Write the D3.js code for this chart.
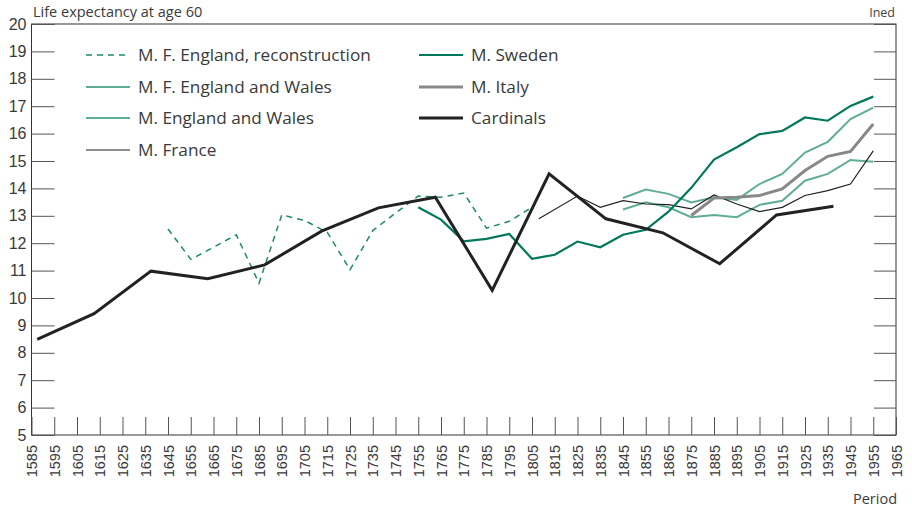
<!DOCTYPE html>
<html>
<head>
<meta charset="utf-8">
<script src="https://cdn.jsdelivr.net/npm/d3@7"></script>
<style>
  body { margin: 0; background: #fff; }
  svg { display: block; font-family: "Open Sans", "Noto Sans", sans-serif; }
</style>
</head>
<body>
<div id="chart"></div>
<script>
// data (year, life expectancy at 60)
const englandRecon = [[1645,12.52],[1655,11.41],[1665,11.85],[1675,12.31],[1685,10.54],[1695,13.03],[1705,12.83],
  [1715,12.40],[1725,11.03],[1735,12.46],[1745,13.10],[1755,13.72],[1765,13.68],[1775,13.83],[1785,12.55],
  [1795,12.80],[1805,13.31]];
const mfEnglandWales = [[1845,13.65],[1855,13.96],[1865,13.80],[1875,13.49],[1885,13.68],[1895,13.58],[1905,14.16],
  [1915,14.53],[1925,15.31],[1935,15.70],[1945,16.53],[1955,16.95]];
const mEnglandWales = [[1845,13.23],[1855,13.49],[1865,13.31],[1875,12.95],[1885,13.03],[1895,12.95],[1905,13.40],
  [1915,13.55],[1925,14.28],[1935,14.53],[1945,15.04],[1955,14.97]];
const mFrance = [[1808,12.89],[1825,13.72],[1835,13.31],[1845,13.55],[1855,13.43],[1865,13.41],[1875,13.25],
  [1885,13.76],[1895,13.43],[1905,13.15],[1915,13.31],[1925,13.74],[1935,13.92],[1945,14.16],[1955,15.37]];
const mSweden = [[1755,13.31],[1765,12.86],[1775,12.07],[1785,12.16],[1795,12.34],[1805,11.43],[1815,11.58],
  [1825,12.06],[1835,11.85],[1845,12.31],[1855,12.49],[1865,13.15],[1875,14.02],[1885,15.05],[1895,15.50],
  [1905,15.98],[1915,16.10],[1925,16.59],[1935,16.47],[1945,17.01],[1955,17.35]];
const mItaly = [[1875,13.01],[1885,13.65],[1895,13.68],[1905,13.74],[1915,13.98],[1925,14.65],[1935,15.17],
  [1945,15.35],[1955,16.35]];
const cardinals = [[1587.5,8.49],[1612.5,9.43],[1637.5,10.98],[1662.5,10.70],[1687.5,11.21],[1712.5,12.44],
  [1737.5,13.29],[1762.5,13.68],[1787.5,10.28],[1812.5,14.53],[1837.5,12.89],[1862.5,12.38],[1887.5,11.25],
  [1912.5,13.03],[1937.5,13.35]];

const xTicks = d3.range(1585, 1966, 10);
const yTicks = d3.range(5, 21, 1);

const series = [
  { name: "M. F. England, reconstruction", data: englandRecon, color: "#1f8a68", width: 1.5, dash: "6,5", col: 0, row: 0 },
  { name: "M. F. England and Wales", data: mfEnglandWales, color: "#5fae93", width: 2, col: 0, row: 1 },
  { name: "M. England and Wales", data: mEnglandWales, color: "#5fae93", width: 2, col: 0, row: 2 },
  { name: "M. France", data: mFrance, color: "#222", width: 1.2, col: 0, row: 3 },
  { name: "M. Sweden", data: mSweden, color: "#00795a", width: 2.2, col: 1, row: 0 },
  { name: "M. Italy", data: mItaly, color: "#888", width: 3, col: 1, row: 1 },
  { name: "Cardinals", data: cardinals, color: "#222", width: 3, col: 1, row: 2 }
];

const W = 912, H = 509;
const plotL = 31.5, plotR = 896, plotT = 24, plotB = 435;

const svg = d3.select("#chart").append("svg")
  .attr("width", W).attr("height", H);

const x = d3.scaleLinear().domain([1585, 1965]).range([plotL, plotR]);
const y = d3.scaleLinear().domain([5, 20]).range([plotB, plotT]);

// frame
svg.append("rect")
  .attr("x", plotL).attr("y", plotT)
  .attr("width", plotR - plotL).attr("height", plotB - plotT)
  .attr("fill", "none").attr("stroke", "#333").attr("stroke-width", 1);

// y axis left, ticks inward
const yAxis = svg.append("g")
  .attr("transform", `translate(${plotL},0)`)
  .call(d3.axisLeft(y).tickValues(yTicks).tickSize(-23));
yAxis.select(".domain").remove();
yAxis.selectAll("line").attr("stroke", "#555");
yAxis.selectAll("text").attr("font-size", 16).attr("fill", "#3a3a3a")
  .attr("x", -5).attr("text-anchor", "end");

// right side ticks
const yAxisR = svg.append("g")
  .attr("transform", `translate(${plotR},0)`)
  .call(d3.axisRight(y).tickValues(yTicks).tickSize(-22).tickFormat(""));
yAxisR.select(".domain").remove();
yAxisR.selectAll("line").attr("stroke", "#555");

// x axis with upward ticks
const xAxis = svg.append("g")
  .attr("transform", `translate(0,${plotB})`)
  .call(d3.axisBottom(x).tickValues(xTicks).tickSize(-18).tickFormat(d3.format("d")));
xAxis.select(".domain").remove();
xAxis.selectAll("line").attr("stroke", "#555");
xAxis.selectAll("text")
  .attr("font-size", 14.5).attr("fill", "#3a3a3a")
  .attr("transform", "rotate(-90)")
  .attr("x", -10).attr("y", 0).attr("dy", "0.35em")
  .style("text-anchor", "end");

// lines
const line = d3.line().x(d => x(d[0])).y(d => y(d[1]));
series.forEach(s => {
  svg.append("path")
    .datum(s.data)
    .attr("d", line)
    .attr("fill", "none")
    .attr("stroke", s.color)
    .attr("stroke-width", s.width)
    .attr("stroke-dasharray", s.dash || null)
    .attr("stroke-linejoin", "miter");
});

// legend
const legX = [86, 419], legY = [55, 87, 118, 150];
series.forEach(s => {
  const g = svg.append("g").attr("transform", `translate(${legX[s.col]},${legY[s.row]})`);
  g.append("line").attr("x1", 0).attr("x2", 44).attr("y1", 0).attr("y2", 0)
    .attr("stroke", s.color).attr("stroke-width", s.width)
    .attr("stroke-dasharray", s.dash || null);
  g.append("text").attr("x", 52).attr("y", 6)
    .attr("font-size", 17.2).attr("fill", "#3a3a3a").text(s.name);
});

// titles
svg.append("text").attr("x", 33).attr("y", 17).attr("font-size", 14.5).attr("fill", "#3a3a3a")
  .text("Life expectancy at age 60");
svg.append("text").attr("x", 895).attr("y", 17).attr("font-size", 12.5).attr("fill", "#444")
  .attr("text-anchor", "end").text("Ined");
svg.append("text").attr("x", 897).attr("y", 504).attr("font-size", 14.5).attr("fill", "#3a3a3a")
  .attr("text-anchor", "end").text("Period");
</script>
</body>
</html>
